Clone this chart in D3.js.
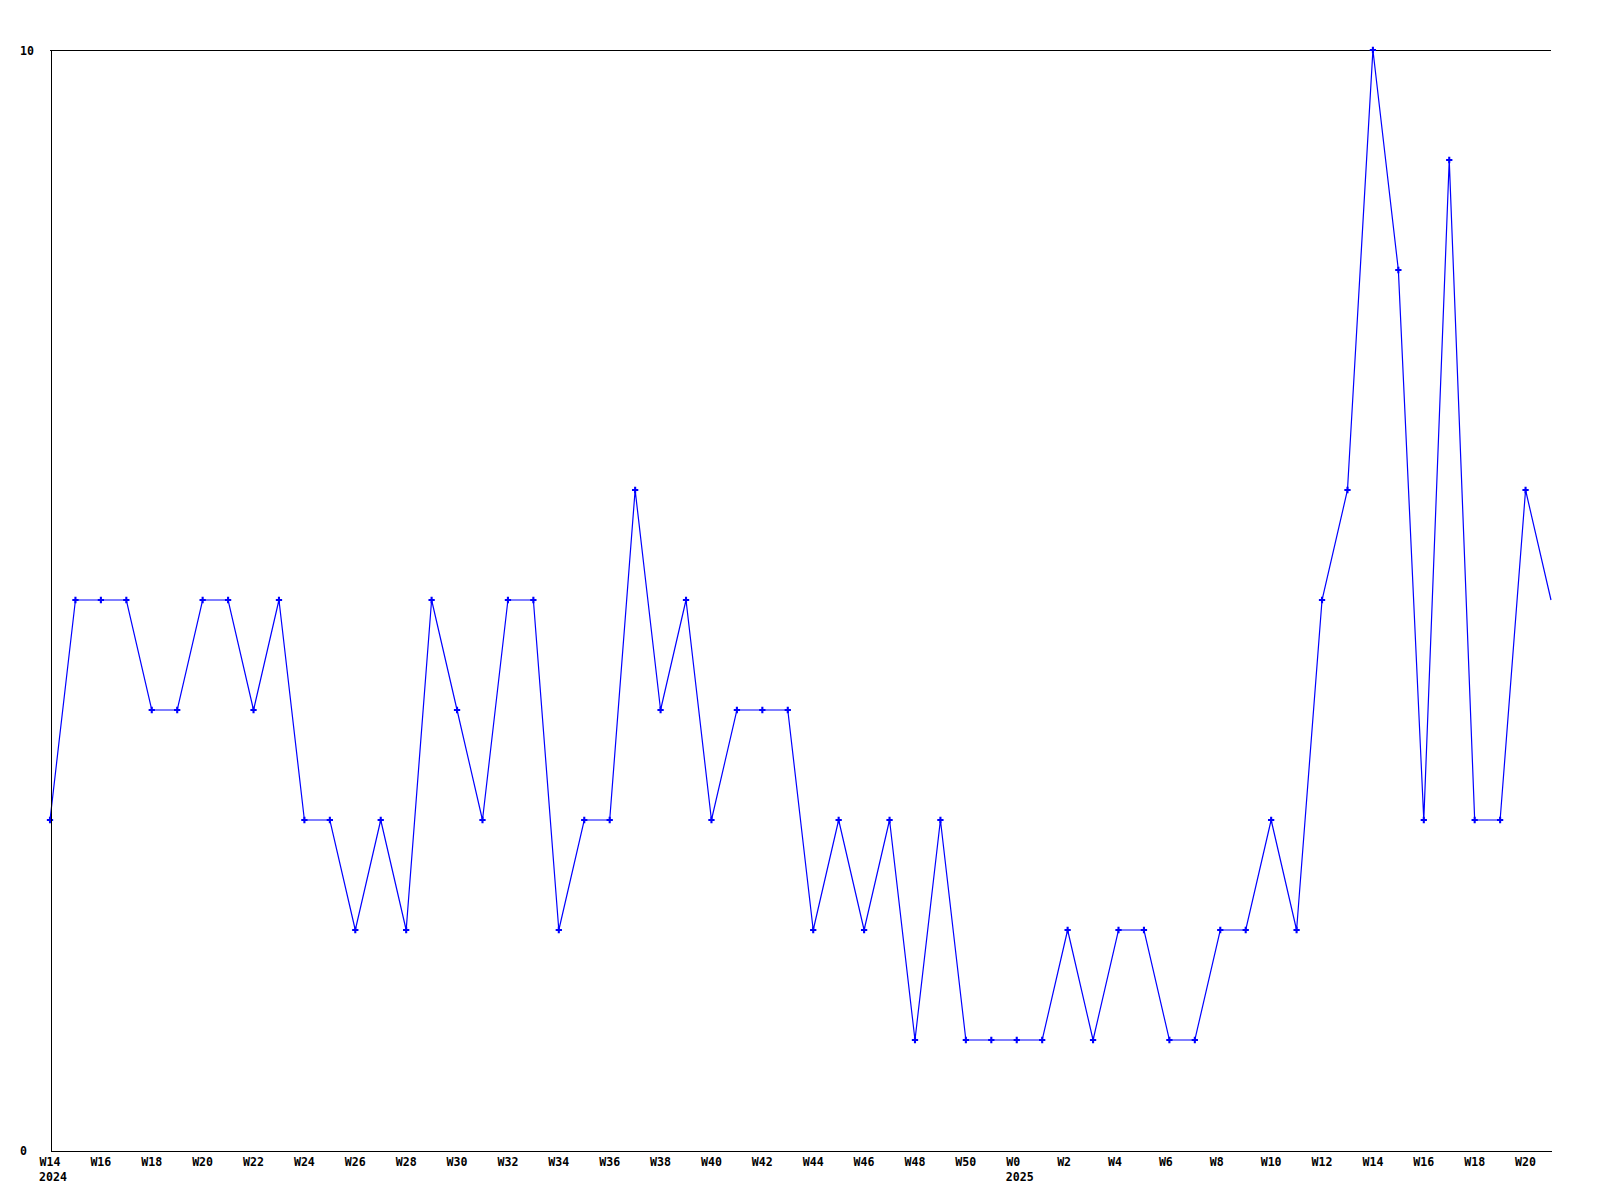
<!DOCTYPE html>
<html>
<head>
<meta charset="utf-8">
<script src="https://cdn.jsdelivr.net/npm/d3@7"></script>
<style>
  html, body { margin: 0; padding: 0; background: #fff; }
  svg { display: block; }
  text { font-family: "DejaVu Sans Mono", monospace; font-weight: bold; font-size: 11.6px; fill: #000; }
</style>
</head>
<body>
<svg id="chart" width="1600" height="1200"></svg>
<script>
// Week labels (one per data point), 2024 W14 .. W51, then 2025 W0 .. W21
const weeks = [
  "W14","W15","W16","W17","W18","W19","W20","W21","W22","W23",
  "W24","W25","W26","W27","W28","W29","W30","W31","W32","W33",
  "W34","W35","W36","W37","W38","W39","W40","W41","W42","W43",
  "W44","W45","W46","W47","W48","W49","W50","W51",
  "W0","W1","W2","W3","W4","W5","W6","W7","W8","W9",
  "W10","W11","W12","W13","W14","W15","W16","W17","W18","W19",
  "W20","W21"
];
// Year labels placed under the first week of each year
const yearIndex = [0, 38];
const yearLabels = ["2024", "2025"];
// Weekly values
const values = [
  3,5,5,5,4,4,5,5,4,5,
  3,3,2,3,2,5,4,3,5,5,
  2,3,3,6,4,5,3,4,4,4,
  2,3,2,3,1,3,1,1,1,1,
  2,1,2,2,1,1,2,2,3,2,
  5,6,10,8,3,9,3,3,6,5
];
// Y tick values
const yTicks = [0, 10];

const svg = d3.select("#chart");
const mLeft = 50, mRight = 1551, mTop = 50, mBottom = 1150;

const x = d3.scaleLinear().domain([0, values.length - 1]).range([mLeft, mRight]);
const y = d3.scaleLinear().domain([0, 10]).range([mBottom, mTop]);

// Top border line
svg.append("line")
  .attr("x1", x.range()[0]).attr("x2", x.range()[1])
  .attr("y1", y(10) + 0.5).attr("y2", y(10) + 0.5)
  .attr("stroke", "#000").attr("stroke-width", 1)
  .attr("shape-rendering", "crispEdges");

// Data line
const line = d3.line().x((d, i) => x(i)).y(d => y(d));
svg.append("path")
  .datum(values)
  .attr("d", line)
  .attr("fill", "none")
  .attr("stroke", "#0000ff")
  .attr("stroke-width", 1.2);

// Markers (the final partial point carries none)
const sym = d3.symbol().type(d3.symbolCross).size(22);
svg.append("g").selectAll("path")
  .data(values.map((v, i) => ({v, i})).filter(d => x(d.i) < mRight))
  .join("path")
  .attr("d", sym)
  .attr("transform", d => `translate(${x(d.i)},${y(d.v)})`)
  .attr("fill", "#0000ff");

// Bottom axis
const tickIdx = weeks.map((w, i) => i).filter(i => i % 2 === 0);
const xAxis = d3.axisBottom(x)
  .tickValues(tickIdx)
  .tickSize(0)
  .tickSizeOuter(0)
  .tickFormat(i => weeks[i]);
const gx = svg.append("g")
  .attr("transform", `translate(0,${mBottom + 0.5})`)
  .call(xAxis);
gx.select(".domain").attr("stroke", "#000").attr("shape-rendering", "crispEdges");
gx.selectAll(".tick text")
  .attr("text-anchor", "start")
  .attr("x", -11)
  .attr("y", 15.5)
  .attr("dy", null)
  .attr("font-family", null).attr("font-size", null);
// Year labels
gx.selectAll(".year")
  .data(yearIndex)
  .join("text")
  .attr("class", "year")
  .attr("text-anchor", "start")
  .attr("x", (d) => x(d) - 11)
  .attr("y", 30.5)
  .text((d, k) => yearLabels[k]);

// Left axis
const yAxis = d3.axisLeft(y)
  .tickValues(yTicks)
  .tickSize(0)
  .tickSizeOuter(0)
  .tickFormat(d3.format("d"));
const gy = svg.append("g")
  .attr("transform", `translate(${mLeft + 0.5},0)`)
  .call(yAxis);
gy.select(".domain").attr("stroke", "#000").attr("shape-rendering", "crispEdges");
gy.selectAll(".tick text")
  .attr("text-anchor", "start")
  .attr("x", 20 - mLeft - 0.5)
  .attr("dy", "0.35em")
  .attr("font-family", null).attr("font-size", null);
</script>
</body>
</html>
